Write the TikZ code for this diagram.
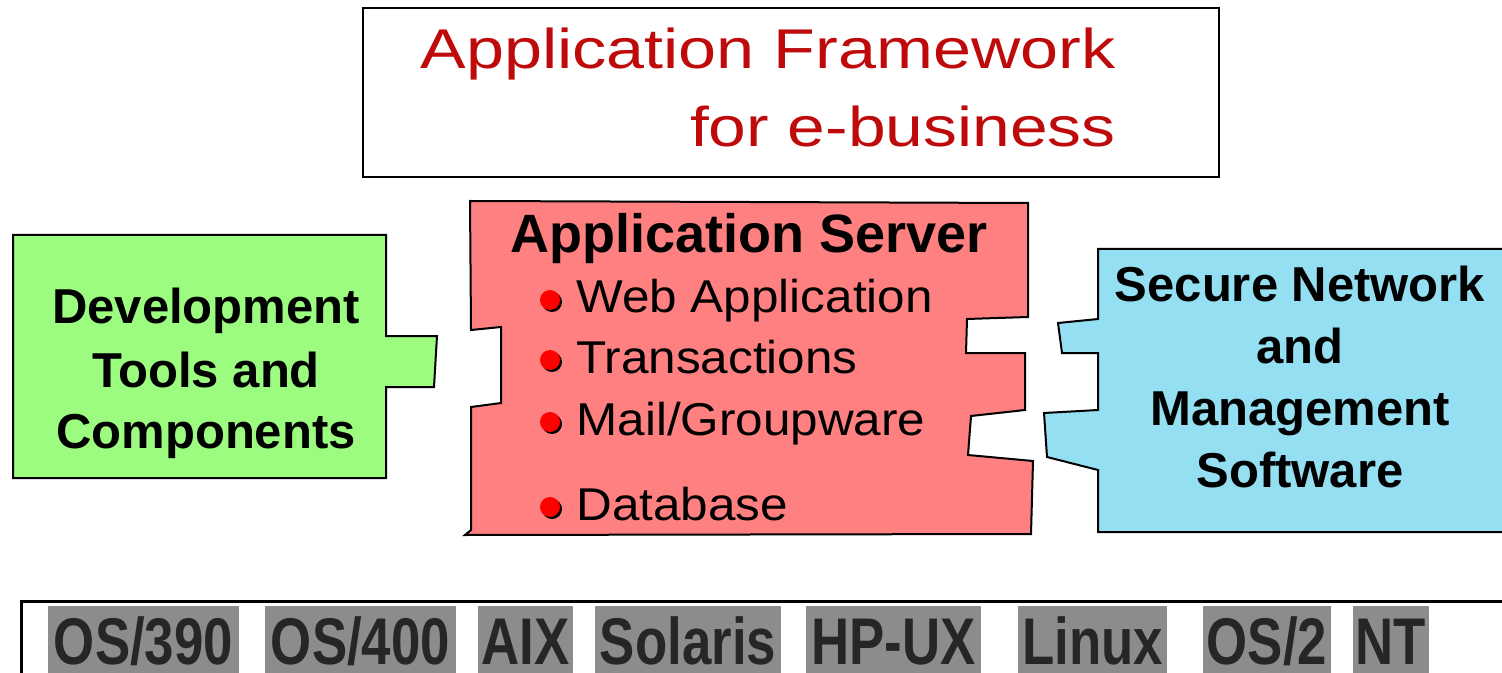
\documentclass[tikz,border=0pt]{standalone}
\usepackage{fontspec}
\usepackage{graphicx}
\setmainfont{Liberation Sans}
\definecolor{titlered}{RGB}{190,10,10}
\definecolor{devgreen}{RGB}{156,252,128}
\definecolor{srvred}{RGB}{255,128,128}
\definecolor{netblue}{RGB}{148,223,242}
\definecolor{bulletred}{RGB}{255,0,0}
\definecolor{osgray}{RGB}{140,140,140}
\definecolor{ostext}{RGB}{38,38,38}
\tikzset{
  shapeline/.style={draw=black, line width=1pt, line join=miter},
  boldtxt/.style={font=\fontsize{24.5pt}{30pt}\selectfont\bfseries, anchor=base, inner sep=0pt},
  srvtitle/.style={font=\fontsize{27pt}{32pt}\selectfont\bfseries, anchor=base west, inner sep=0pt},
  itemtxt/.style={font=\fontsize{23pt}{28pt}\selectfont, anchor=base west, inner sep=0pt},
  titletxt/.style={text=titlered, font=\fontsize{28pt}{34pt}\selectfont, anchor=base east, inner sep=0pt},
  oslabel/.style={fill=osgray, text=ostext, font=\fontsize{33pt}{40pt}\selectfont\bfseries,
    anchor=base, inner xsep=0pt, inner ysep=0pt, text height=29pt, text depth=4.5pt, minimum width=#1},
  bulletdot/.style={circle, fill=bulletred, inner sep=0pt, minimum size=10pt},
  bulletshadow/.style={circle, fill=black, inner sep=0pt, minimum size=10pt},
}
\newcommand{\osname}[1]{\scalebox{0.8}[1]{#1}}
\newcommand{\itemname}[1]{\scalebox{1.075}[1]{#1}}
\begin{document}
\begin{tikzpicture}[x=0.5pt,y=-0.5pt]
\useasboundingbox (0,0) rectangle (1502,673);
\clip (0,0) rectangle (1502,673);
\fill[white] (0,0) rectangle (1502,673);

% title box
\draw[line width=1pt] (363,8) rectangle (1219,177);
\node[titletxt] (t1) at (1116,69) {\scalebox{1.22}[1]{Application Framework}};
\node[titletxt] (t2) at (1116,147) {\scalebox{1.21}[1]{for e-business}};

% development tools
\path[shapeline, fill=devgreen] (13,235) -- (386,235) -- (386,336) -- (437,336) -- (434,387) -- (386,387) -- (386,478) -- (13,478) -- cycle;
\node[boldtxt] (d1) at (206,323) {Development};
\node[boldtxt] (d2) at (206,387) {Tools and};
\node[boldtxt] (d3) at (206,448) {Components};

% application server
\path[shapeline, fill=srvred] (470,201) -- (1028,203) -- (1028,317) -- (967,319) -- (966,353) -- (1025,353) -- (1025,410) -- (971,416) -- (968,455) -- (1033,461) -- (1031,534) -- (465,535) -- (471,530) -- (471,407) -- (501,403) -- (501,327) -- (471,330) -- cycle;
\node[srvtitle] (s0) at (510,253) {Application Server};
\node[bulletshadow] (bs1) at (552,302) {};
\node[bulletdot] (b1) at (550,300) {};
\node[itemtxt] (i1) at (576,313) {\itemname{Web Application}};
\node[bulletshadow] (bs2) at (552,362) {};
\node[bulletdot] (b2) at (550,360) {};
\node[itemtxt] (i2) at (576,373) {\itemname{Transactions}};
\node[bulletshadow] (bs3) at (552,424) {};
\node[bulletdot] (b3) at (550,422) {};
\node[itemtxt] (i3) at (576,435) {\itemname{Mail/Groupware}};
\node[bulletshadow] (bs4) at (552,509) {};
\node[bulletdot] (b4) at (550,507) {};
\node[itemtxt] (i4) at (576,520) {\itemname{Database}};

% secure network
\path[shapeline, fill=netblue] (1098,249) -- (1540,249) -- (1540,532) -- (1098,532) -- (1098,470) -- (1047,457) -- (1044,413) -- (1098,410) -- (1098,353) -- (1062,353) -- (1058,323) -- (1098,319) -- cycle;
\node[boldtxt] (n1) at (1300,302) {Secure Network};
\node[boldtxt] (n2) at (1300,363) {and};
\node[boldtxt] (n3) at (1300,425) {Management};
\node[boldtxt] (n4) at (1300,487) {Software};

% operating systems
\draw[line width=1.5pt] (21,700) -- (21,601) -- (1520,601);
\node[oslabel=95.5pt] (os1) at (143.5,664) {\osname{OS/390}};
\node[oslabel=95.5pt] (os2) at (360.5,664) {\osname{OS/400}};
\node[oslabel=47.5pt] (os3) at (525.5,664) {\osname{AIX}};
\node[oslabel=93pt] (os4) at (688,664) {\osname{Solaris}};
\node[oslabel=87.5pt] (os5) at (893.5,664) {\osname{HP-UX}};
\node[oslabel=74.5pt] (os6) at (1092.5,664) {\osname{Linux}};
\node[oslabel=64pt] (os7) at (1267,664) {\osname{OS/2}};
\node[oslabel=38pt] (os8) at (1391,664) {\osname{NT}};
\end{tikzpicture}
\end{document}
